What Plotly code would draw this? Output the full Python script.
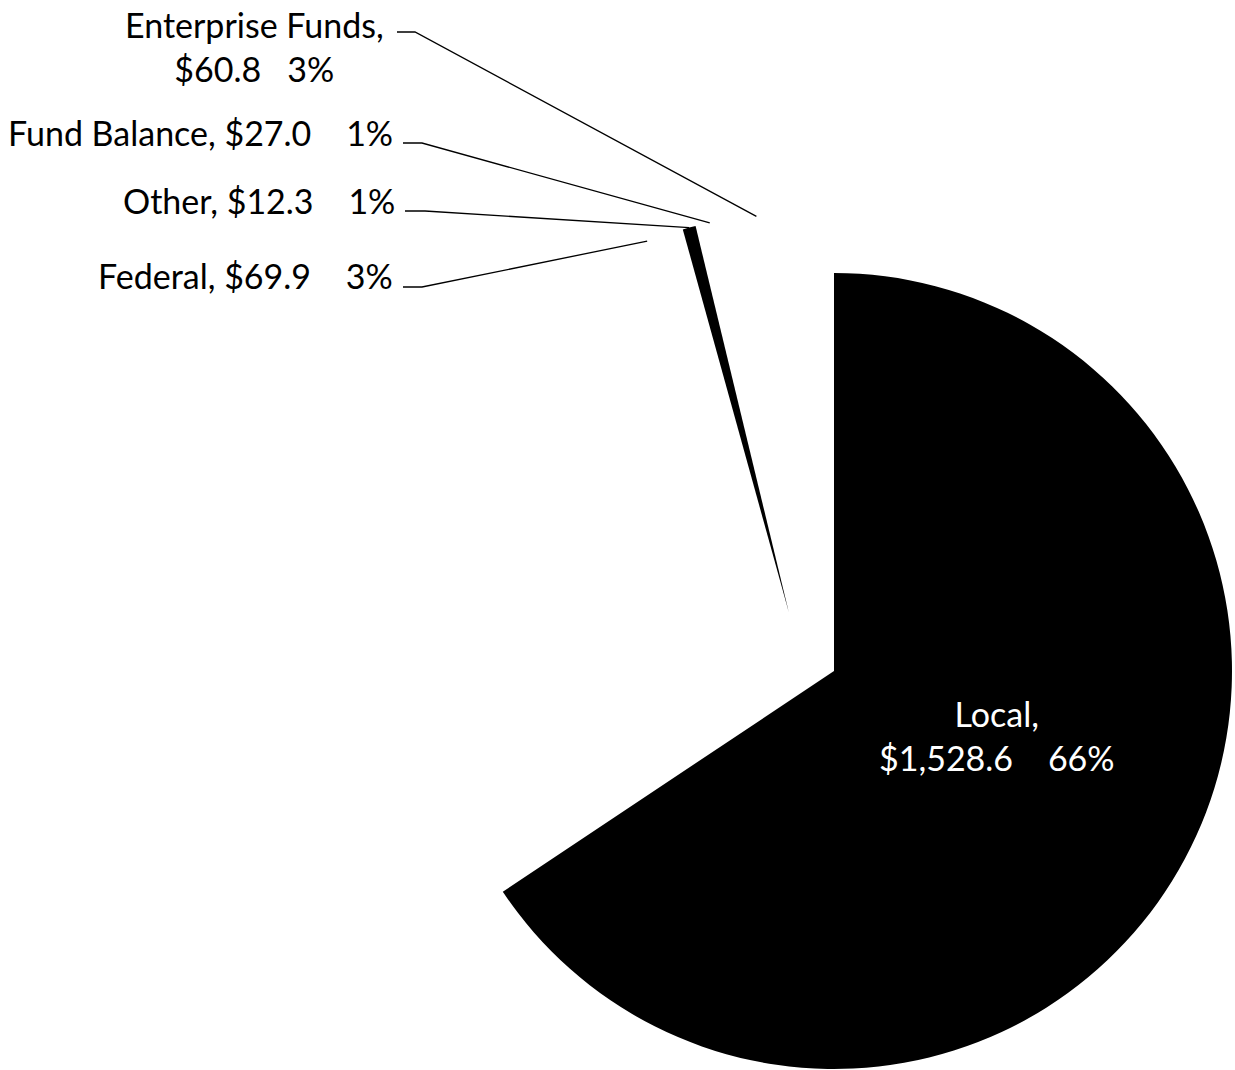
import math
import plotly.graph_objects as go

# ---- data ----
categories = ["Local", "State", "Federal", "Other", "Fund Balance", "Enterprise Funds"]
values = [1528.6, 630.0, 69.9, 12.3, 27.0, 60.8]   # $ millions (State label not shown in source)
pct_labels = ["66%", "27%", "3%", "1%", "1%", "3%"]

# ---- layout constants (pixels) ----
W, H = 1235, 1070
R = 398
main_center = (834, 671)      # un-exploded pie (Local)
expl_center = (789, 613)      # exploded slices
FONT = "Lato"
FS = 34
NB = "\u00a0"


def domain_for(center, r):
    cx, cy = center
    return dict(x=[(cx - r) / W, (cx + r) / W],
                y=[1 - (cy + r) / H, 1 - (cy - r) / H])


def colors_for(visible):
    return ["black" if c in visible else "rgba(0,0,0,0)" for c in categories]


fig = go.Figure()
fig.add_trace(go.Pie(
    labels=categories, values=values, sort=False, direction="clockwise", rotation=0,
    marker=dict(colors=colors_for({"Local"}), line=dict(width=0)),
    textinfo="none", hoverinfo="label+value+percent", showlegend=False,
    domain=domain_for(main_center, R)))
fig.add_trace(go.Pie(
    labels=categories, values=values, sort=False, direction="clockwise", rotation=0,
    marker=dict(colors=colors_for({"Other"}), line=dict(width=0)),
    textinfo="none", hoverinfo="label+value+percent", showlegend=False,
    domain=domain_for(expl_center, R)))

# slice mid angles (clockwise from 12 o'clock) computed from data
total = sum(values)
mid_angle = {}
acc = 0.0
for c, v in zip(categories, values):
    a0 = acc / total * 360
    acc += v
    a1 = acc / total * 360
    mid_angle[c] = (a0 + a1) / 2


def arc_point(cat, center, r):
    a = math.radians(mid_angle[cat])
    return center[0] + r * math.sin(a), center[1] - r * math.cos(a)


label_specs = {
    "Enterprise Funds": dict(x=254, y=46, text=f"Enterprise Funds,<br>${values[5]:.1f}{NB*3}{pct_labels[5]}",
                             xanchor="center", start=(397, 32), knee=(415, 32)),
    "Fund Balance": dict(x=395, y=132, text=f"Fund Balance, ${values[4]:.1f}{NB*4}{pct_labels[4]}",
                         xanchor="right", start=(403, 143), knee=(422, 143)),
    "Other": dict(x=397, y=200, text=f"Other, ${values[3]:.1f}{NB*4}{pct_labels[3]}",
                  xanchor="right", start=(405, 211), knee=(425, 211)),
    "Federal": dict(x=395, y=275, text=f"Federal, ${values[2]:.1f}{NB*4}{pct_labels[2]}",
                    xanchor="right", start=(403, 287), knee=(422, 287)),
}

for cat, s in label_specs.items():
    ex, ey = arc_point(cat, expl_center, R)
    fig.add_trace(go.Scatter(
        x=[s["start"][0], s["knee"][0], ex], y=[s["start"][1], s["knee"][1], ey],
        mode="lines", line=dict(color="black", width=1.3), hoverinfo="skip", showlegend=False))
    fig.add_annotation(x=s["x"], y=s["y"], xref="x", yref="y", text=s["text"], showarrow=False,
                       xanchor=s["xanchor"], yanchor="middle", align="center",
                       font=dict(family=FONT, size=FS, color="black"))

fig.add_annotation(x=997, y=735, xref="x", yref="y",
                   text=f"Local,<br>${values[0]:,.1f}{NB*4}{pct_labels[0]}",
                   showarrow=False, xanchor="center", yanchor="middle", align="center",
                   font=dict(family=FONT, size=FS, color="white"))

fig.update_layout(
    width=W, height=H, margin=dict(l=0, r=0, t=0, b=0),
    paper_bgcolor="white", plot_bgcolor="rgba(0,0,0,0)",
    xaxis=dict(range=[0, W], visible=False, fixedrange=True),
    yaxis=dict(range=[H, 0], visible=False, fixedrange=True),
    font=dict(family=FONT),
)

fig.write_html("out.html")
